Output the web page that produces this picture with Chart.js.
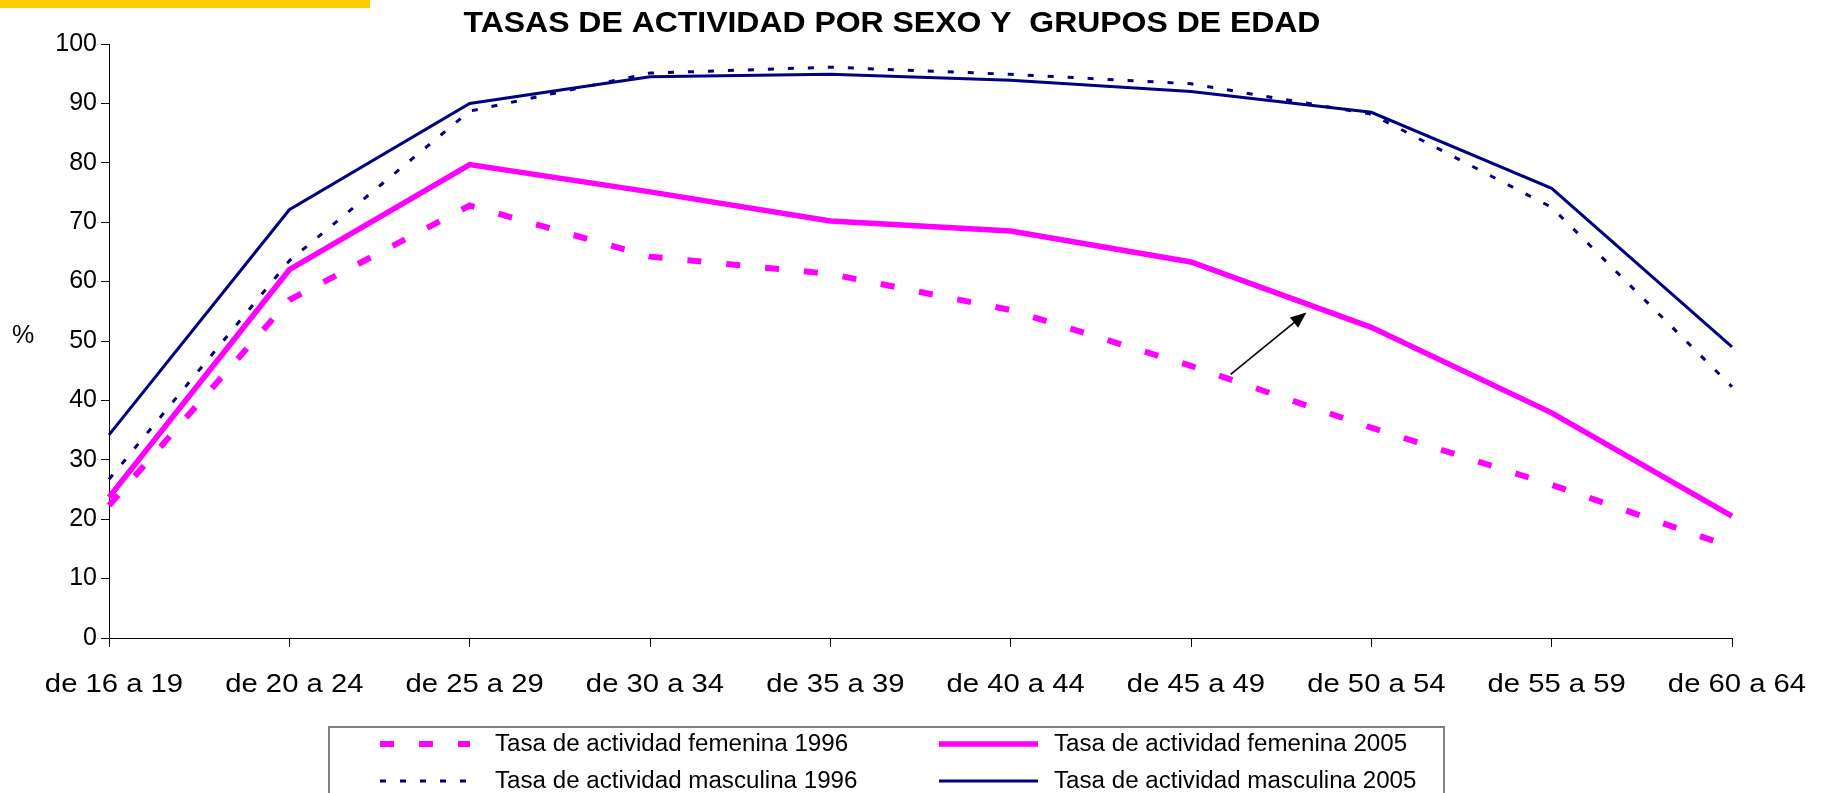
<!DOCTYPE html>
<html><head><meta charset="utf-8">
<script src="https://cdn.jsdelivr.net/npm/chart.js@4"></script>
<style>html,body{margin:0;padding:0;background:#fff;overflow:hidden}</style>
</head><body>
<canvas id="c" width="1827" height="793"></canvas>
<script>
// ---- data ----
const categories = ['de 16 a 19','de 20 a 24','de 25 a 29','de 30 a 34','de 35 a 39','de 40 a 44','de 45 a 49','de 50 a 54','de 55 a 59','de 60 a 64'];
const femenina1996  = [22.3, 56.9, 72.8, 64.2, 61.3, 55.2, 45.8, 35.4, 25.8, 15.3];
const femenina2005  = [23.7, 62.0, 79.7, 75.1, 70.2, 68.5, 63.3, 52.3, 37.9, 20.5];
const masculina1996 = [26.7, 63.5, 88.7, 95.1, 96.1, 94.9, 93.3, 88.2, 72.5, 42.3];
const masculina2005 = [34.2, 72.1, 90.0, 94.5, 94.9, 93.9, 92.0, 88.5, 75.7, 49.0];
const seriesLabels = ['Tasa de actividad femenina 1996','Tasa de actividad femenina 2005','Tasa de actividad masculina 1996','Tasa de actividad masculina 2005'];
const yMin = 0, yMax = 100, yStep = 10;
const titleText = 'TASAS DE ACTIVIDAD POR SEXO Y  GRUPOS DE EDAD';
const yAxisLabel = '%';
// arrow annotation in data coordinates (category index, value)
const arrowFrom = [6.22, 44.4];
const arrowTo   = [6.64, 54.8];

const FONT = '"Liberation Sans", Arial, sans-serif';
const MAGENTA = '#FF00FF', NAVY = '#000080';

function stretchText(ctx, text, x, y, sx, align) {
  ctx.save();
  ctx.translate(x, y);
  ctx.scale(sx, 1);
  ctx.textAlign = align;
  ctx.fillText(text, 0, 0);
  ctx.restore();
}

const decor = {
  id: 'decor',
  beforeDraw(chart) {
    const ctx = chart.ctx;
    ctx.save();
    ctx.fillStyle = '#fff';
    ctx.fillRect(0, 0, chart.width, chart.height);
    ctx.fillStyle = '#FFCC00';
    ctx.fillRect(0, 0, 370, 8);
    ctx.restore();
  },
  afterDraw(chart) {
    const ctx = chart.ctx;
    const xs = chart.scales.x, ys = chart.scales.y;
    ctx.save();
    ctx.fillStyle = '#000';
    // title
    ctx.font = 'bold 30px ' + FONT;
    ctx.textBaseline = 'middle';
    stretchText(ctx, titleText, 892, 24, 1.065, 'center');
    // % label
    ctx.font = '25px ' + FONT;
    stretchText(ctx, yAxisLabel, 23, 336, 1, 'center');
    // x tick labels (horizontally stretched as in the original)
    ctx.textBaseline = 'alphabetic';
    ctx.font = '25px ' + FONT;
    xs.ticks.forEach((t, i) => {
      stretchText(ctx, chart.data.labels[t.value], xs.getPixelForTick(i) + 5, 692, 1.17, 'center');
    });
    // arrow
    const x1 = xs.getPixelForValue(arrowFrom[0]), y1 = ys.getPixelForValue(arrowFrom[1]);
    const x2 = xs.getPixelForValue(arrowTo[0]), y2 = ys.getPixelForValue(arrowTo[1]);
    const ang = Math.atan2(y2 - y1, x2 - x1);
    const hl = 16, hw = 6.5;
    ctx.strokeStyle = '#000'; ctx.lineWidth = 1.6;
    ctx.beginPath(); ctx.moveTo(x1, y1);
    ctx.lineTo(x2 - Math.cos(ang) * hl * 0.8, y2 - Math.sin(ang) * hl * 0.8); ctx.stroke();
    ctx.beginPath();
    ctx.moveTo(x2, y2);
    ctx.lineTo(x2 - Math.cos(ang) * hl + Math.sin(ang) * hw, y2 - Math.sin(ang) * hl - Math.cos(ang) * hw);
    ctx.lineTo(x2 - Math.cos(ang) * hl - Math.sin(ang) * hw, y2 - Math.sin(ang) * hl + Math.cos(ang) * hw);
    ctx.closePath(); ctx.fillStyle = '#000'; ctx.fill();
    // legend
    ctx.strokeStyle = '#808080'; ctx.lineWidth = 2;
    ctx.strokeRect(329, 727, 1444 - 329, 100);
    const colLine = [[380, 470], [939, 1038]];
    const colText = [495, 1054];
    const rowY = [744, 781];
    ctx.font = '23px ' + FONT;
    ctx.textBaseline = 'middle';
    chart.data.datasets.forEach((ds, i) => {
      const c = i % 2, r = Math.floor(i / 2);
      ctx.save();
      ctx.strokeStyle = ds.borderColor;
      ctx.lineWidth = ds.borderWidth;
      ctx.lineCap = 'butt';
      ctx.setLineDash(ds.borderDash || []);
      ctx.beginPath();
      ctx.moveTo(colLine[c][0], rowY[r]);
      ctx.lineTo(colLine[c][1], rowY[r]);
      ctx.stroke();
      ctx.restore();
      ctx.fillStyle = '#000';
      stretchText(ctx, ds.label, colText[c], rowY[r] + 1, 1.05, 'left');
    });
    ctx.restore();
  }
};

new Chart(document.getElementById('c'), {
  type: 'line',
  data: {
    labels: categories,
    datasets: [
      { label: seriesLabels[0], data: femenina1996, borderColor: MAGENTA, borderWidth: 6, borderDash: [14, 25], borderCapStyle: 'butt' },
      { label: seriesLabels[1], data: femenina2005, borderColor: MAGENTA, borderWidth: 5.5 },
      { label: seriesLabels[2], data: masculina1996, borderColor: NAVY, borderWidth: 3, borderDash: [6, 14], borderCapStyle: 'butt' },
      { label: seriesLabels[3], data: masculina2005, borderColor: NAVY, borderWidth: 3 }
    ]
  },
  options: {
    responsive: false,
    animation: false,
    devicePixelRatio: 1,
    layout: { padding: { top: 44, right: 95, left: 0, bottom: 0 } },
    elements: { point: { radius: 0, hoverRadius: 0 }, line: { tension: 0, fill: false } },
    plugins: { legend: { display: false }, title: { display: false }, tooltip: { enabled: false } },
    scales: {
      x: {
        type: 'category',
        offset: false,
        grid: { drawOnChartArea: false, drawTicks: true, tickLength: 9, tickColor: '#000' },
        border: { display: true, color: '#000', width: 1 },
        ticks: { color: 'rgba(0,0,0,0)', font: { family: FONT, size: 25 }, maxRotation: 0, autoSkip: false, padding: 20 },
        afterFit(s) { s.height = 155; }
      },
      y: {
        min: yMin, max: yMax,
        grid: { drawOnChartArea: false, drawTicks: true, tickLength: 8, tickColor: '#000' },
        border: { display: true, color: '#000', width: 1 },
        ticks: { stepSize: yStep, color: '#000', font: { family: FONT, size: 25 }, padding: 4 },
        afterFit(s) { s.width = 109; }
      }
    }
  },
  plugins: [decor]
});
</script>
</body></html>
